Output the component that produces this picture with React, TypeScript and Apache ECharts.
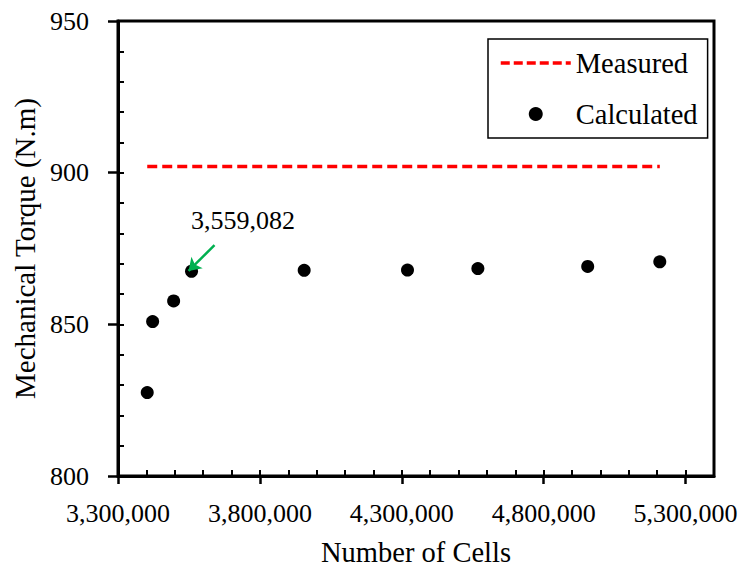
import React, { useEffect, useRef } from "react";
import * as echarts from "echarts";

const cells = [3403000, 3422000, 3496000, 3559082, 3956000, 4320000, 4568000, 4955000, 5209000];
const torque = [827.5, 850.9, 857.7, 867.5, 867.8, 867.9, 868.4, 869.1, 870.6];
const measuredX = [3403000, 5209000];
const measuredY = [902, 902];
const xMajorTicks = [3300000, 3800000, 4300000, 4800000, 5300000];
const highlightCells = 3559082;
const arrowFrom = [3640000, 876.1];
const arrowTo = [3548600, 867.6];
const noteAt = [3740000, 884.3];

const FONT = "'Liberation Serif', 'Times New Roman', serif";
const fmt = (v: number) => Math.round(v).toLocaleString("en-US");

export default function App() {
  const ref = useRef<HTMLDivElement>(null);
  useEffect(() => {
    if (!ref.current) return;
    const chart = echarts.init(ref.current, undefined, { renderer: "svg" });
    chart.setOption({
      animation: false,
      backgroundColor: "#fff",
      grid: {
        left: 118,
        top: 21,
        right: 27,
        bottom: 95,
        show: true,
        borderColor: "#000",
        borderWidth: 3,
        backgroundColor: "transparent",
      },
      legend: {
        orient: "vertical",
        left: 488,
        top: 39,
        data: [
          {
            name: "Measured",
            itemStyle: { opacity: 0 },
            lineStyle: { width: 3.5, color: "#ff0000", type: [9, 4] },
          },
          { name: "Calculated" },
        ],
        borderColor: "#000",
        borderWidth: 1.5,
        backgroundColor: "#fff",
        padding: [9, 10, 9, 11],
        itemWidth: 70,
        itemHeight: 14,
        itemGap: 21,
        textStyle: { fontFamily: FONT, fontSize: 28.5, color: "#000", lineHeight: 30 },
      },
      xAxis: [
        {
          type: "value",
          min: 3300000,
          max: 5400000,
          position: "bottom",
          name: "Number of Cells",
          nameLocation: "middle",
          nameGap: 62,
          nameTextStyle: { fontFamily: FONT, fontSize: 28.5, color: "#000" },
          axisLine: { show: true, lineStyle: { color: "#000", width: 3 } },
          axisTick: {
            show: true,
            inside: false,
            length: 8,
            customValues: xMajorTicks,
            lineStyle: { color: "#000", width: 2.5 },
          },
          axisLabel: {
            customValues: xMajorTicks,
            formatter: fmt,
            fontFamily: FONT,
            fontSize: 26,
            color: "#000",
            margin: 24,
          },
          splitLine: { show: false },
        },
        {
          type: "value",
          min: 3300000,
          max: 5400000,
          interval: 100000,
          position: "bottom",
          axisLine: { show: false },
          axisTick: { show: true, inside: true, length: 6, lineStyle: { color: "#000", width: 2 } },
          axisLabel: { show: false },
          splitLine: { show: false },
        },
      ],
      yAxis: [
        {
          type: "value",
          min: 800,
          max: 950,
          interval: 50,
          position: "left",
          name: "Mechanical Torque (N.m)",
          nameLocation: "middle",
          nameGap: 77,
          nameTextStyle: { fontFamily: FONT, fontSize: 29, color: "#000" },
          axisLine: { show: true, lineStyle: { color: "#000", width: 3 } },
          axisTick: { show: true, inside: false, length: 10, lineStyle: { color: "#000", width: 2.5 } },
          axisLabel: { fontFamily: FONT, fontSize: 26, color: "#000", margin: 29 },
          splitLine: { show: false },
        },
        {
          type: "value",
          min: 800,
          max: 950,
          interval: 10,
          position: "left",
          axisLine: { show: false },
          axisTick: { show: true, inside: true, length: 6, lineStyle: { color: "#000", width: 2 } },
          axisLabel: { show: false },
          splitLine: { show: false },
        },
      ],
      series: [
        {
          name: "Measured",
          type: "line",
          xAxisIndex: 0,
          yAxisIndex: 0,
          data: measuredX.map((x, i) => [x, measuredY[i]]),
          symbol: "none",
          lineStyle: { color: "#ff0000", width: 3.5, type: [10, 5] },
          itemStyle: { color: "#ff0000" },
          silent: true,
        },
        {
          name: "Calculated",
          type: "scatter",
          xAxisIndex: 0,
          yAxisIndex: 0,
          data: cells.map((x, i) => [x, torque[i]]),
          symbol: "circle",
          symbolSize: 13,
          itemStyle: { color: "#000", opacity: 1 },
          silent: true,
          markLine: {
            silent: true,
            symbol: ["none", "arrow"],
            symbolSize: 12,
            label: { show: false },
            lineStyle: { color: "#00b050", width: 2.5, type: "solid" },
            data: [[{ coord: arrowFrom }, { coord: arrowTo }]],
          },
          markPoint: {
            silent: true,
            symbol: "circle",
            symbolSize: 1,
            itemStyle: { color: "rgba(0,0,0,0)" },
            label: {
              show: true,
              position: "inside",
              formatter: fmt(highlightCells),
              fontFamily: FONT,
              fontSize: 26,
              color: "#000",
            },
            data: [{ coord: noteAt }],
          },
        },
      ],
    });
    return () => chart.dispose();
  }, []);
  return (
    <div
      ref={ref}
      style={{ position: "fixed", left: 0, top: 0, width: 741, height: 572, background: "#fff" }}
    />
  );
}
